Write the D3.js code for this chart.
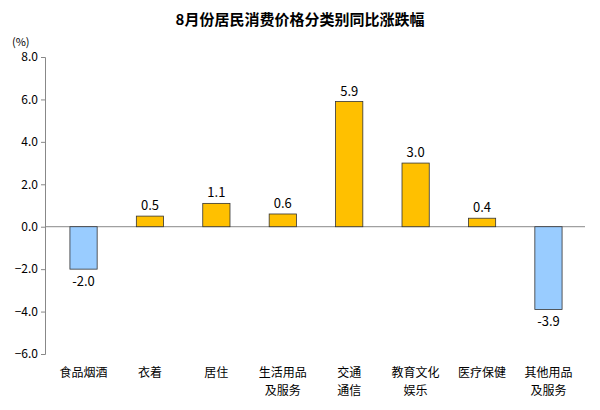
<!DOCTYPE html>
<html><head><meta charset="utf-8">
<script src="https://cdn.jsdelivr.net/npm/d3@7/dist/d3.min.js"></script>
<style>body{margin:0;background:#fff}</style></head>
<body><svg id="c" width="600" height="410"></svg>
<script>
const categories=[["食品烟酒"],["衣着"],["居住"],["生活用品","及服务"],["交通","通信"],["教育文化","娱乐"],["医疗保健"],["其他用品","及服务"]];
const values=[-2.0,0.5,1.1,0.6,5.9,3.0,0.4,-3.9];
const ticks=[8,6,4,2,0,-2,-4,-6];
const svg=d3.select("#c");
const font="'Noto Sans CJK SC', 'Liberation Sans', sans-serif";
const x=d3.scaleBand().domain(d3.range(categories.length)).range([50,582]).paddingInner(0.59).paddingOuter(0.3);
const y=d3.scaleLinear().domain([-6,8]).range([354,57]);
svg.append("text").attr("x",300).attr("y",25).attr("text-anchor","middle").attr("font-family",font).attr("font-weight","bold").attr("font-size",15).text("8月份居民消费价格分类别同比涨跌幅");
svg.append("text").attr("x",12).attr("y",46).attr("font-family",font).attr("font-size",11).text("(%)");
const ax=svg.append("g").attr("transform","translate(45,0)").call(d3.axisLeft(y).tickValues(ticks).tickFormat(d3.format(".1f")).tickSize(4));
ax.selectAll("text").attr("font-family",font).attr("font-size",12).attr("fill","#000");
ax.selectAll("line,path").attr("stroke","#888");
svg.append("line").attr("x1",45).attr("x2",585).attr("y1",y(0)).attr("y2",y(0)).attr("stroke","#888");
svg.selectAll("rect.b").data(values).enter().append("rect")
 .attr("x",(d,i)=>x(i)).attr("width",x.bandwidth())
 .attr("y",d=>y(Math.max(0,d))).attr("height",d=>Math.abs(y(d)-y(0)))
 .attr("fill",d=>d<0?"#99CCFF":"#FFC000").attr("stroke","#333").attr("stroke-width",0.8);
svg.selectAll("text.v").data(values).enter().append("text")
 .attr("x",(d,i)=>x(i)+x.bandwidth()/2).attr("y",d=>d<0?y(d)+17:y(d)-6)
 .attr("text-anchor","middle").attr("font-family",font).attr("font-size",13).text(d=>d.toFixed(1));
categories.forEach((c,i)=>{c.forEach((t,j)=>{svg.append("text").attr("x",x(i)+x.bandwidth()/2).attr("y",377+j*18).attr("text-anchor","middle").attr("font-family",font).attr("font-size",12).text(t);});});
</script></body></html>
